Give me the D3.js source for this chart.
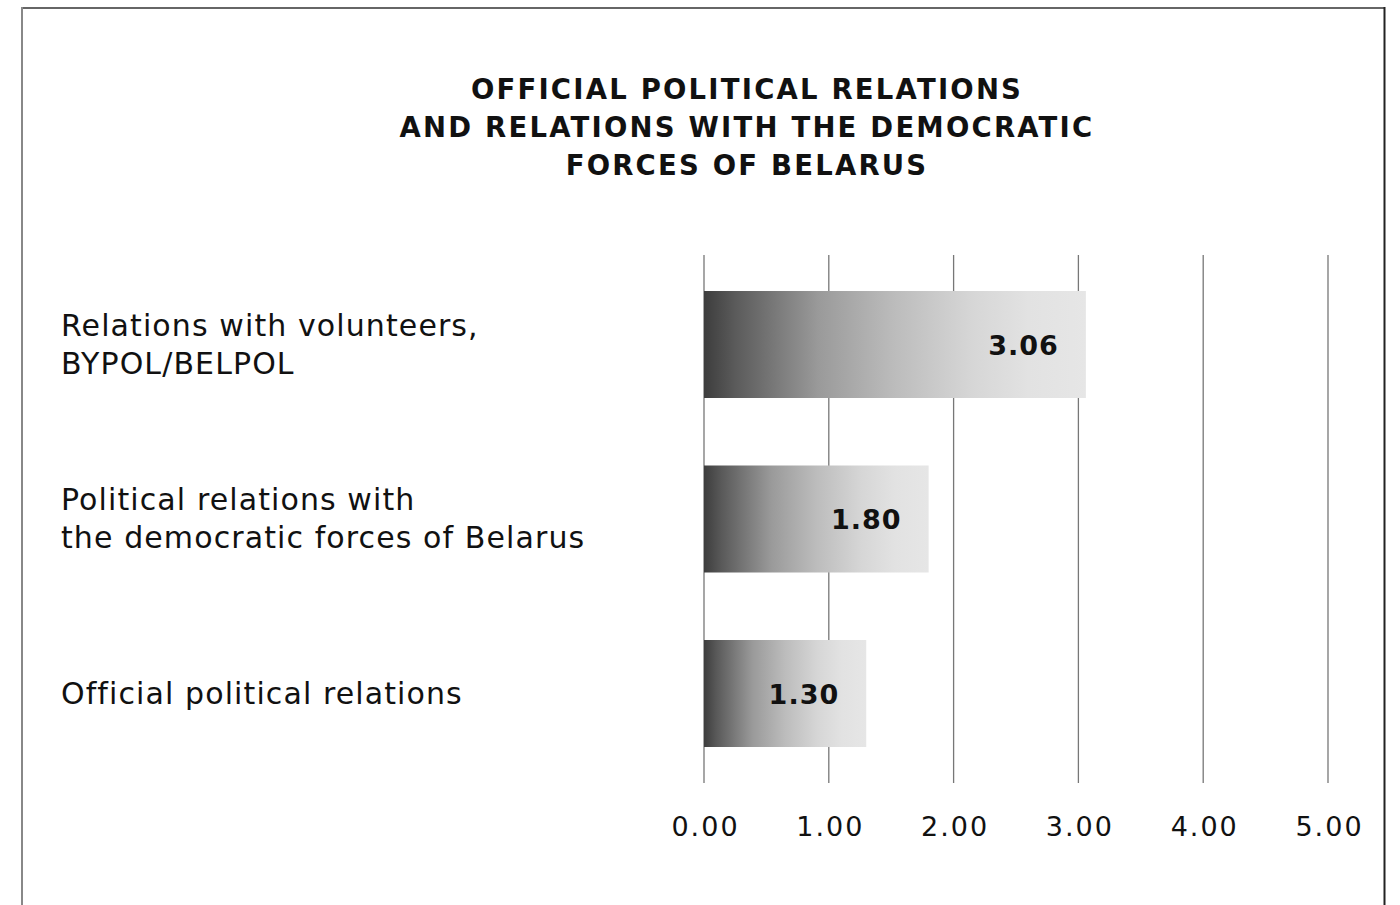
<!DOCTYPE html>
<html><head><meta charset="utf-8">
<script src="https://cdn.jsdelivr.net/npm/d3@7"></script>
<style>body{margin:0;background:#fff}svg{display:block}</style>
</head><body>
<script>
const categories = [["Relations with volunteers,","BYPOL/BELPOL"],["Political relations with","the democratic forces of Belarus"],["Official political relations"]];
const values = [3.06, 1.80, 1.30];
const valueLabels = ["3.06","1.80","1.30"];
const ticks = [0,1,2,3,4,5];
const titleLines = ["OFFICIAL POLITICAL RELATIONS","AND RELATIONS WITH THE DEMOCRATIC","FORCES OF BELARUS"];

const W=1400,H=905;
const svg=d3.select("body").append("svg").attr("width",W).attr("height",H);
const font="'DejaVu Sans', 'Open Sans', sans-serif";

// border
svg.append("line").attr("x1",22).attr("x2",1385).attr("y1",8).attr("y2",8).attr("stroke","#666").attr("stroke-width",2);
svg.append("line").attr("x1",22).attr("x2",22).attr("y1",7).attr("y2",905).attr("stroke","#888").attr("stroke-width",2);
svg.append("line").attr("x1",1384.5).attr("x2",1384.5).attr("y1",7).attr("y2",905).attr("stroke","#222").attr("stroke-width",2);

const defs=svg.append("defs");
const g=defs.append("linearGradient").attr("id","bg").attr("x1","0").attr("x2","1").attr("y1","0").attr("y2","0");
[[0,"#3d3d3d"],[0.08,"#5a5a5a"],[0.3,"#9a9a9a"],[0.5,"#bcbcbc"],[0.7,"#d6d6d6"],[0.85,"#e2e2e2"],[1,"#e6e6e6"]].forEach(s=>g.append("stop").attr("offset",s[0]).attr("stop-color",s[1]));

const x=d3.scaleLinear().domain([0,5]).range([704,1328]);
const y=d3.scaleBand().domain(d3.range(values.length)).range([257.25,780.75]).paddingInner(0.3868).paddingOuter(0.1934);

// title
svg.append("text").attr("x",746).attr("y",99).attr("text-anchor","middle").attr("font-family",font).attr("font-weight","bold").attr("font-size",27.5).attr("letter-spacing",2.2).attr("fill","#111")
 .selectAll("tspan").data(titleLines).join("tspan").attr("x",747).attr("dy",(d,i)=>i?38:0).text(d=>d);

// grid
svg.append("g").selectAll("line").data(ticks).join("line")
 .attr("x1",d=>x(d)).attr("x2",d=>x(d)).attr("y1",255).attr("y2",783).attr("stroke","#777").attr("stroke-width",1.3);

// axis labels
const ax=svg.append("g").attr("transform","translate(0,783)").call(d3.axisBottom(x).tickValues(ticks).tickFormat(d3.format(".2f")).tickSize(0).tickPadding(34));
ax.select(".domain").remove();
ax.selectAll("text").attr("font-family",font).attr("font-size",27).attr("letter-spacing",2).attr("dx",1).attr("fill","#111");

// bars
svg.append("g").selectAll("rect").data(values).join("rect")
 .attr("x",x(0)).attr("y",(d,i)=>y(i)).attr("width",d=>x(d)-x(0)).attr("height",y.bandwidth()).attr("fill","url(#bg)");

svg.append("g").selectAll("text").data(values).join("text")
 .attr("x",d=>x(d)-27).attr("y",(d,i)=>y(i)+y.bandwidth()/2+10).attr("text-anchor","end")
 .attr("font-family",font).attr("font-weight","bold").attr("font-size",27).attr("letter-spacing",1).attr("fill","#111").text((d,i)=>valueLabels[i]);

// category labels
svg.append("g").selectAll("text").data(categories).join("text")
 .attr("x",61).attr("y",(d,i)=>y(i)+y.bandwidth()/2 - (d.length-1)*19 + 10)
 .attr("font-family",font).attr("font-size",30).attr("letter-spacing",1.1).attr("fill","#111")
 .each(function(d){d3.select(this).selectAll("tspan").data(d).join("tspan").attr("x",61).attr("dy",(t,j)=>j?38:0).text(t=>t);});
</script>
</body></html>
